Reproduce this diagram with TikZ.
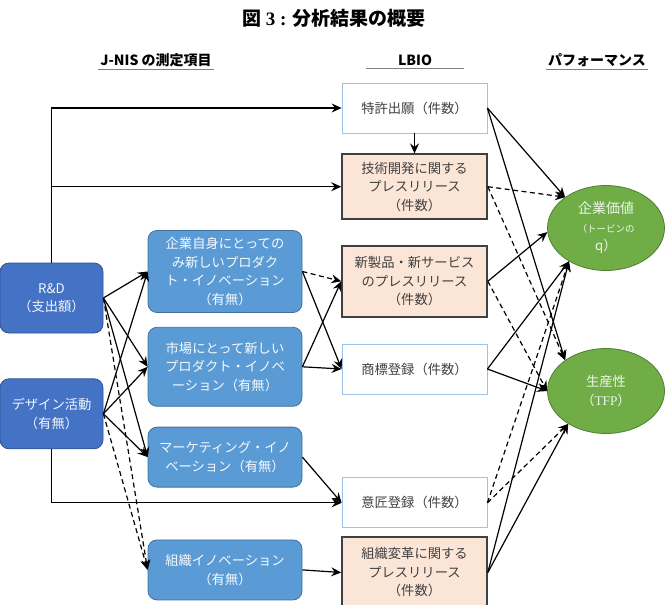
\documentclass[tikz,border=0pt]{standalone}
\usepackage{fontspec}
\setmainfont{Liberation Serif}
\newfontfamily\jp{Noto Sans CJK JP}
\usepackage{tikz}
\usetikzlibrary{arrows.meta,shapes.geometric,positioning}

\definecolor{rdblue}{HTML}{4472C4}
\definecolor{rdline}{HTML}{2F528F}
\definecolor{innblue}{HTML}{5B9BD5}
\definecolor{innline}{HTML}{41719C}
\definecolor{prfill}{HTML}{FBE5D6}
\definecolor{ipline}{HTML}{9DC3E6}
\definecolor{perfgreen}{HTML}{70AD47}
\definecolor{perfline}{HTML}{507E32}
\definecolor{txtgray}{HTML}{404040}

\begin{document}
\begin{tikzpicture}[x=1pt, y=-1pt, ->, >={Stealth[length=10pt,width=9pt,inset=3.5pt]}, line width=1.2pt,
  every node/.style={font=\jp\fontsize{13.3}{18.5}\selectfont, align=center, inner sep=2pt},
  jnis/.style={draw=rdline, line width=0.8pt, fill=rdblue, text=white!94!rdblue, rounded corners=9pt, minimum width=103pt, minimum height=70pt},
  innov/.style={draw=innline, line width=0.8pt, fill=innblue, text=white!94!innblue, rounded corners=9pt, minimum width=154pt},
  ip/.style={draw=ipline, line width=0.8pt, fill=white, text=txtgray, minimum width=145pt, minimum height=50pt},
  release/.style={draw=txtgray, line width=1.6pt, fill=prfill, text=txtgray, minimum width=145pt},
  perf/.style={ellipse, draw=perfline, line width=0.8pt, fill=perfgreen, text=white!88!perfgreen, minimum width=117pt, minimum height=85pt, inner sep=0pt},
  header/.style={font=\jp\bfseries\fontsize{14}{16}\selectfont},
  weak/.style={dash pattern=on 5pt off 3.5pt}]
\useasboundingbox (0,0) rectangle (668,604);

\node[font=\jp\bfseries\fontsize{19}{21}\selectfont] (title) at (334,18) {図\ {\rmfamily 3 :} 分析結果の概要};
\node[header] (hjnis) at (156,60) {J-NIS の測定項目};
\node[header, minimum width=96pt] (hlbio) at (415,60) {LBIO};
\node[header] (hperf) at (597,60) {パフォーマンス};
\draw[-, line width=0.6pt, gray] (hjnis.south west) -- (hjnis.south east);
\draw[-, line width=0.6pt, gray] (hlbio.south west) -- (hlbio.south east);
\draw[-, line width=0.6pt, gray] (hperf.south west) -- (hperf.south east);

\node[jnis] (rd) at (51.5,298) {R\&D\\（支出額）};
\node[jnis] (design) [below=45pt of rd] {デザイン活動\\（有無）};

\node[innov, minimum height=82pt] (own) at (225,271.5) {企業自身にとっての\\み新しいプロダク\\ト・イノベーション\\（有無）};
\node[innov, minimum height=79pt] (market) [below=14pt of own] {市場にとって新しい\\プロダクト・イノベ\\ーション（有無）};
\node[innov, minimum height=60pt] (mkting) [below=20pt of market] {マーケティング・イノ\\ベーション（有無）};
\node[innov, minimum height=60pt] (orginn) [below=52pt of mkting] {組織イノベーション\\（有無）};

\node[ip] (patent) at (414.5,108) {特許出願（件数）};
\node[release, minimum height=65pt] (techpr) [below=20pt of patent] {技術開発に関する\\プレスリリース\\（件数）};
\node[release, minimum height=71pt] (newpr) [below=25pt of techpr] {新製品・新サービス\\のプレスリリース\\（件数）};
\node[ip] (trademark) [below=26pt of newpr] {商標登録（件数）};
\node[ip] (dsgnreg) [below=83pt of trademark] {意匠登録（件数）};
\node[release, minimum height=71pt] (orgpr) [below=8pt of dsgnreg] {組織変革に関する\\プレスリリース\\（件数）};

\node[perf] (value) at (606,228) {\fontsize{14}{20}\selectfont 企業価値\\\fontsize{9.5}{18}\selectfont （トービンの\\q）};
\node[perf] (tfp) at (606,391) {生産性\\（{\rmfamily TFP}）};

\draw (rd.north) |- (patent.west);
\draw (rd.north |- techpr.west) -- (techpr.west);
\draw (design.south) |- (dsgnreg.west);

\path
(patent) edge (techpr)

(rd.east) edge (own.west)
(rd.east) edge (market.west)
(rd.east) edge (mkting.west)
(rd.east) edge [weak] (orginn.west)

(design.east) edge (own.west)
(design.east) edge (market.west)
(design.east) edge (mkting.west)
(design.east) edge [weak] (orginn.west)

(own.east) edge [weak] (newpr.west)
(own.east) edge (trademark.west)
(market.east) edge (newpr.west)
(market.east) edge (trademark.west)
(mkting.east) edge (dsgnreg.west)
(orginn.east) edge (orgpr.west)

(patent.east) edge (value.143)
(patent.east) edge (tfp.143)
(techpr.east) edge [weak] (value.143)
(techpr.east) edge [weak] (tfp.143)
(newpr.east) edge (value.184)
(newpr.east) edge [weak] (tfp.180)
(trademark.east) edge (value.222)
(trademark.east) edge (tfp.180)
(dsgnreg.east) edge [weak] (value.222)
(dsgnreg.east) edge [weak] (tfp.221)
(orgpr.east) edge (value.222)
(orgpr.east) edge (tfp.221);
\end{tikzpicture}
\end{document}
